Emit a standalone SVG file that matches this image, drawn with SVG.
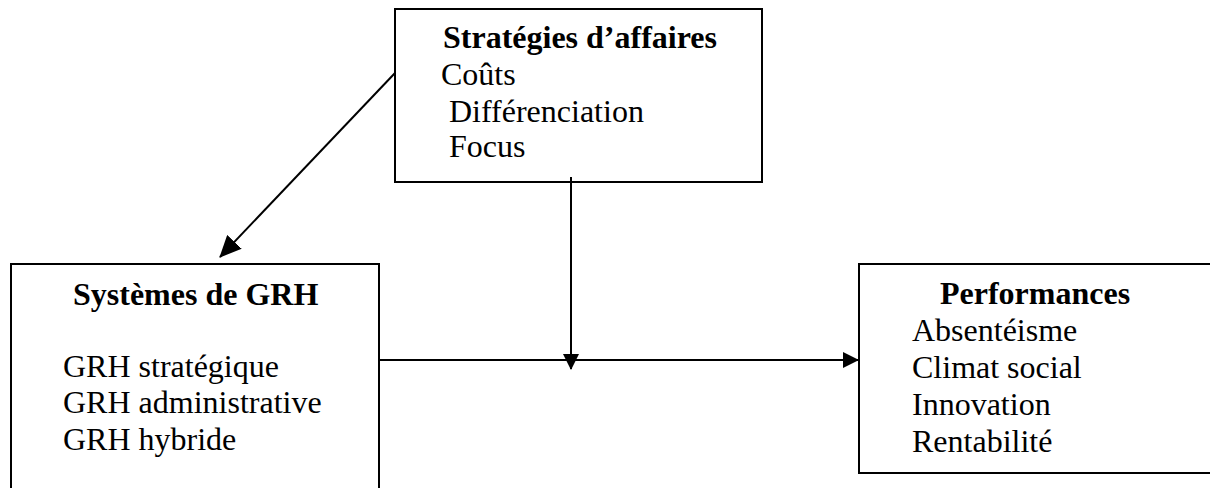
<svg xmlns="http://www.w3.org/2000/svg" width="1210" height="488" viewBox="0 0 1210 488">
<defs>
<marker id="arr" markerWidth="16" markerHeight="16" refX="15" refY="8" orient="auto" markerUnits="userSpaceOnUse">
<path d="M0,0 L16,8 L0,16 Z" fill="#000"/>
</marker>
<marker id="arrB" markerWidth="22" markerHeight="20" refX="21" refY="10" orient="auto" markerUnits="userSpaceOnUse">
<path d="M0,0 L22,10 L0,20 Z" fill="#000"/>
</marker>
<style>
.box{fill:#fff;stroke:#000;stroke-width:2}
.t{font-family:"Liberation Serif","Times New Roman",serif;font-size:32px;fill:#000}
.b{font-weight:bold}
.c{stroke:#000;stroke-width:2;fill:none}
</style>
</defs>
<rect width="1210" height="488" fill="#fff"/>
<g id="strategies">
<rect class="box" x="395" y="9" width="367" height="173"/>
<text class="t b" x="443" y="48">Stratégies d’affaires</text>
<text class="t" x="441" y="85">Coûts</text>
<text class="t" x="441" y="122" xml:space="preserve"> Différenciation</text>
<text class="t" x="441" y="157" xml:space="preserve"> Focus</text>
</g>
<g id="systemes">
<rect class="box" x="11" y="264" width="368" height="260"/>
<text class="t b" x="73" y="305">Systèmes de GRH</text>
<text class="t" x="63" y="377">GRH stratégique</text>
<text class="t" x="63" y="413">GRH administrative</text>
<text class="t" x="63" y="450">GRH hybride</text>
</g>
<g id="performances">
<rect class="box" x="859" y="264" width="420" height="209"/>
<text class="t b" x="940" y="304">Performances</text>
<text class="t" x="912" y="341">Absentéisme</text>
<text class="t" x="912" y="378">Climat social</text>
<text class="t" x="912" y="415">Innovation</text>
<text class="t" x="912" y="452">Rentabilité</text>
</g>
<g id="connectors">
<line class="c" x1="395" y1="73" x2="220" y2="257" marker-end="url(#arrB)"/>
<line class="c" x1="379" y1="360" x2="858" y2="360" marker-end="url(#arr)"/>
<line class="c" x1="571" y1="177" x2="571" y2="369" marker-end="url(#arr)"/>
</g>
</svg>
